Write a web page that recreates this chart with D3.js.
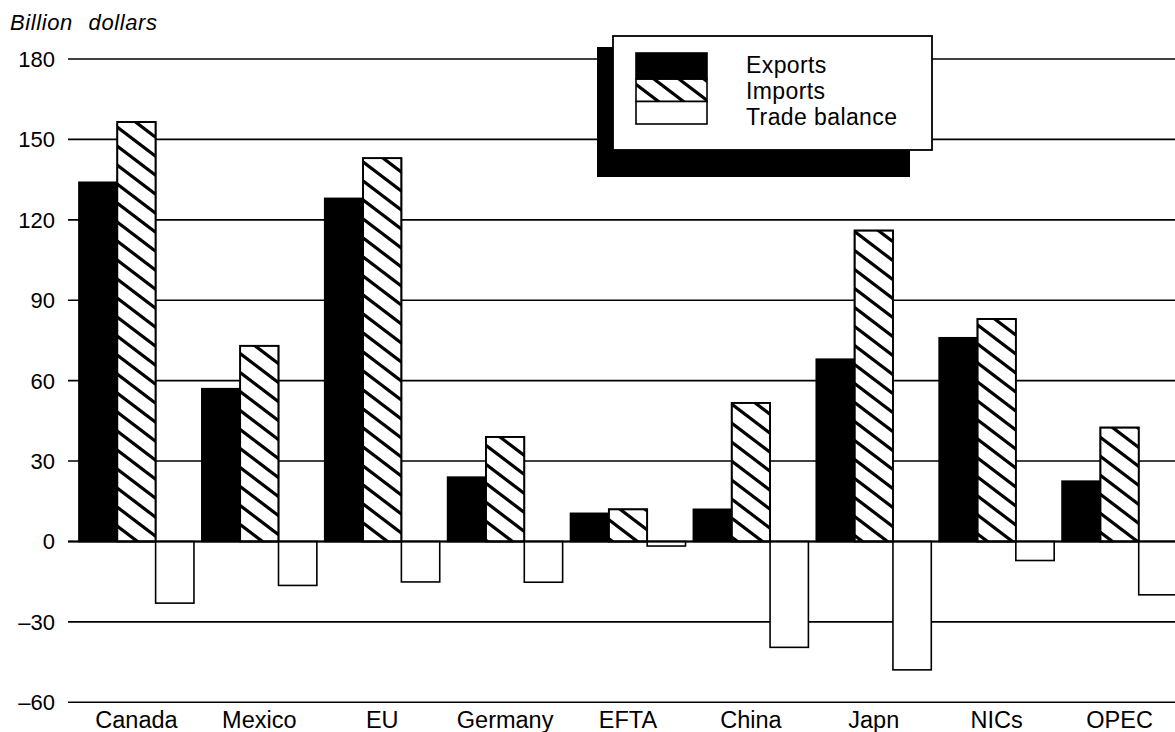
<!DOCTYPE html>
<html>
<head>
<meta charset="utf-8">
<script src="https://cdn.jsdelivr.net/npm/d3@7"></script>
<style>
  body { margin: 0; background: #fff; }
  text { font-family: "Liberation Sans", Arial, Helvetica, sans-serif; fill: #000; }
</style>
</head>
<body>
<script>
const width = 1175
const height = 732

const categories = ['Canada', 'Mexico', 'EU', 'Germany', 'EFTA', 'China', 'Japn', 'NICs', 'OPEC']
const exportsData = [134, 57, 128, 24, 10.5, 12, 68, 76, 22.5]
const importsData = [156.5, 73, 143, 39, 12, 51.7, 116, 83, 42.5]
const balanceData = [-23, -16.4, -15.1, -15.2, -1.7, -39.5, -47.9, -7.1, -19.9]
const seriesNames = ['Exports', 'Imports', 'Trade balance']
const yTicks = [-60, -30, 0, 30, 60, 90, 120, 150, 180]

const svg = d3.select('body').append('svg')
    .attr('width', width)
    .attr('height', height)

// hatch for imports
const defs = svg.append('defs')
defs.append('pattern')
    .attr('id', 'hatch')
    .attr('patternUnits', 'userSpaceOnUse')
    .attr('width', 25)
    .attr('height', 19)
    .selectAll('path')
    .data(['M-5,-3.8L30,22.8', 'M-5,15.2L5,22.8', 'M20,-3.8L30,3.8'])
    .enter().append('path')
    .attr('d', d => d)
    .attr('stroke', '#000')
    .attr('stroke-width', 3.2)

const x = d3.scaleBand()
    .domain(categories)
    .range([75, 1181])
    .paddingInner(0.064)
    .paddingOuter(0.032)

const xs = d3.scaleBand()
    .domain(seriesNames)
    .range([0, x.bandwidth()])

const y = d3.scaleLinear()
    .domain([-60, 180])
    .range([702.3, 59])

// gridlines
svg.append('g').selectAll('line')
    .data(yTicks)
    .enter().append('line')
    .attr('x1', 68)
    .attr('x2', width)
    .attr('y1', d => y(d))
    .attr('y2', d => y(d))
    .attr('stroke', '#000')
    .attr('stroke-width', 1.6)

svg.append('g').selectAll('text')
    .data(yTicks)
    .enter().append('text')
    .attr('x', 55)
    .attr('y', d => y(d))
    .attr('dy', '0.36em')
    .attr('text-anchor', 'end')
    .style('font-size', '22px')
    .text(d => d < 0 ? '\u2013' + Math.abs(d) : d)

svg.append('text')
    .attr('x', 10)
    .attr('y', 30)
    .style('font-size', '22px')
    .style('font-style', 'italic')
    .style('letter-spacing', '0.6px')
    .style('word-spacing', '9px')
    .text('Billion dollars')

// bars
const rows = categories.map((c, i) => ({
    cat: c,
    vals: [
        { s: 'Exports', v: exportsData[i] },
        { s: 'Imports', v: importsData[i] },
        { s: 'Trade balance', v: balanceData[i] }
    ]
}))

const fills = { 'Exports': '#000', 'Imports': '#fff', 'Trade balance': '#fff' }

svg.append('g').selectAll('g')
    .data(rows)
    .enter().append('g')
    .attr('transform', d => 'translate(' + x(d.cat) + ',0)')
    .selectAll('rect')
    .data(d => d.vals)
    .enter().append('rect')
    .attr('x', d => xs(d.s))
    .attr('y', d => Math.min(y(d.v), y(0)))
    .attr('width', xs.bandwidth())
    .attr('height', d => Math.abs(y(d.v) - y(0)))
    .attr('fill', d => fills[d.s])
    .attr('stroke', '#000')
    .attr('stroke-width', 1.6)

// hatch on the import bars
svg.append('g').selectAll('rect')
    .data(rows)
    .enter().append('rect')
    .attr('x', d => x(d.cat) + xs('Imports'))
    .attr('y', (d, i) => y(importsData[i]))
    .attr('width', xs.bandwidth())
    .attr('height', (d, i) => y(0) - y(importsData[i]))
    .attr('fill', 'url(#hatch)')
    .attr('stroke', '#000')
    .attr('stroke-width', 1.8)

// zero line on top
svg.append('line')
    .attr('x1', 68).attr('x2', width)
    .attr('y1', y(0)).attr('y2', y(0))
    .attr('stroke', '#000')
    .attr('stroke-width', 2)

// category labels
svg.append('g').selectAll('text')
    .data(categories)
    .enter().append('text')
    .attr('x', d => x(d) + x.bandwidth() / 2)
    .attr('y', 728)
    .attr('text-anchor', 'middle')
    .style('font-size', '23.5px')
    .text(d => d)

// legend
const lg = svg.append('g')
lg.append('rect')
    .attr('x', 597).attr('y', 47)
    .attr('width', 313).attr('height', 130)
    .attr('fill', '#000')
lg.append('rect')
    .attr('x', 613).attr('y', 36)
    .attr('width', 319).attr('height', 114)
    .attr('fill', '#fff')
    .attr('stroke', '#000')
    .attr('stroke-width', 1.8)

const swatch = [
    { s: 'Exports', y0: 53, y1: 79, fill: '#000' },
    { s: 'Imports', y0: 79, y1: 101.5, fill: 'url(#hatch)' },
    { s: 'Trade balance', y0: 101.5, y1: 124, fill: '#fff' }
]
lg.selectAll('.sw')
    .data(swatch)
    .enter().append('rect')
    .attr('class', 'sw')
    .attr('x', 636).attr('width', 71)
    .attr('y', d => d.y0)
    .attr('height', d => d.y1 - d.y0)
    .attr('fill', d => d.fill)
    .attr('stroke', '#000')
    .attr('stroke-width', 1.6)

lg.selectAll('.lt')
    .data(seriesNames)
    .enter().append('text')
    .attr('class', 'lt')
    .attr('x', 746)
    .attr('y', (d, i) => 72.5 + i * 26)
    .style('font-size', '23px')
    .style('letter-spacing', '0.4px')
    .text(d => d)
</script>
</body>
</html>
